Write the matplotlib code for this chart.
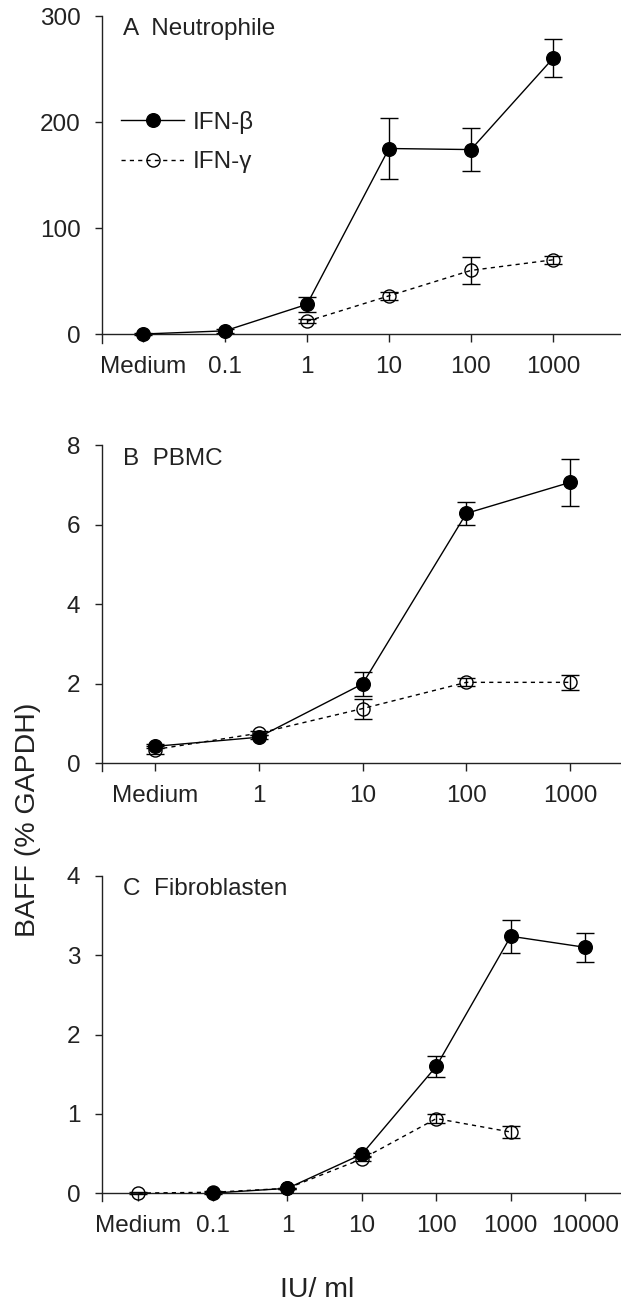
import matplotlib
matplotlib.use("Agg")
import matplotlib.pyplot as plt

plt.rcParams['font.family'] = ['Liberation Sans', 'DejaVu Sans']

INK = '#222222'
W, H = 621, 1310

# panel A: Neutrophile
a_labels = ['Medium', '0.1', '1', '10', '100', '1000']
a_beta_x = [0, 1, 2, 3, 4, 5]
a_beta = [0, 3, 28, 175, 174, 260]
a_beta_err = [1, 2, 7, 29, 20, 18]
a_gamma_x = [2, 3, 4, 5]
a_gamma = [12, 36, 60, 70]
a_gamma_err = [2, 4, 13, 4]

# panel B: PBMC
b_labels = ['Medium', '1', '10', '100', '1000']
b_beta_x = [0, 1, 2, 3, 4]
b_beta = [0.42, 0.65, 1.99, 6.28, 7.06]
b_beta_err = [0.05, 0.05, 0.30, 0.29, 0.59]
b_gamma_x = [0, 1, 2, 3, 4]
b_gamma = [0.34, 0.75, 1.37, 2.03, 2.03]
b_gamma_err = [0.10, 0.05, 0.25, 0.10, 0.18]

# panel C: Fibroblasten
c_labels = ['Medium', '0.1', '1', '10', '100', '1000', '10000']
c_beta_x = [1, 2, 3, 4, 5, 6]
c_beta = [0.0, 0.06, 0.49, 1.60, 3.24, 3.10]
c_beta_err = [0.01, 0.01, 0.02, 0.13, 0.21, 0.18]
c_gamma_x = [0, 1, 2, 3, 4, 5]
c_gamma = [0.0, 0.01, 0.06, 0.43, 0.94, 0.77]
c_gamma_err = [0.01, 0.01, 0.01, 0.02, 0.06, 0.08]

panels = [
    # title, labels, beta, gamma, ylim, yticks, xlim, top px, bottom px, title baseline px
    ('A  Neutrophile', a_labels, (a_beta_x, a_beta, a_beta_err), (a_gamma_x, a_gamma, a_gamma_err),
     (-8, 300), [0, 100, 200, 300], (-0.5, 5.83), 16, 342.5, 35),
    ('B  PBMC', b_labels, (b_beta_x, b_beta, b_beta_err), (b_gamma_x, b_gamma, b_gamma_err),
     (-0.2, 8), [0, 2, 4, 6, 8], (-0.51, 4.49), 445, 771, 465),
    ('C  Fibroblasten', c_labels, (c_beta_x, c_beta, c_beta_err), (c_gamma_x, c_gamma, c_gamma_err),
     (-0.1, 4), [0, 1, 2, 3, 4], (-0.49, 6.48), 876, 1201, 895),
]

fig = plt.figure(figsize=(W / 100, H / 100), dpi=100)
left = 102 / W
fs = 17.5

for i, (title, labels, beta, gamma, ylim, yticks, xlim, top, bot, ty) in enumerate(panels):
    ax = fig.add_axes([left, 1 - bot / H, 1 - left, (bot - top) / H])
    ax.set_facecolor('none')
    # gamma first so filled circles sit on top
    gx, gy, ge = gamma
    ax.errorbar(gx, gy, yerr=ge, fmt='none', ecolor='black', elinewidth=1.0,
                capsize=6.5, capthick=1.0, zorder=2)
    lg, = ax.plot(gx, gy, color='black', lw=1.0, dashes=(3, 3), marker='o', ms=9.4,
                  mfc='none', mec='black', mew=1.0, zorder=3)
    bx, by, be = beta
    ax.errorbar(bx, by, yerr=be, fmt='none', ecolor='black', elinewidth=1.0,
                capsize=6.5, capthick=1.0, zorder=4)
    lb, = ax.plot(bx, by, color='black', lw=1.0, marker='o', ms=9.8,
                  mfc='black', mec='black', zorder=5)

    ax.set_xlim(*xlim)
    ax.set_ylim(*ylim)
    ax.set_xticks(range(len(labels)))
    ax.set_xticklabels(labels)
    ax.set_yticks(yticks)
    ax.spines['top'].set_visible(False)
    ax.spines['right'].set_visible(False)
    ax.spines['bottom'].set_position(('data', 0))
    for s in ('left', 'bottom'):
        ax.spines[s].set_color(INK)
        ax.spines[s].set_linewidth(1.0)
    ax.tick_params(axis='x', direction='out', length=6, width=1.0, color=INK,
                   labelsize=fs, labelcolor=INK, pad=9.5)
    ax.tick_params(axis='y', direction='out', length=5, width=1.0, color=INK,
                   labelsize=fs, labelcolor=INK, pad=10.5)

    fig.text(123 / W, 1 - ty / H, title, fontsize=fs, color=INK, va='baseline', ha='left')

    if i == 0:
        ax.legend([lb, lg], ['IFN-\u03b2', 'IFN-\u03b3'], loc='upper left',
                  bbox_to_anchor=(121 / W, 1 - 111 / H), bbox_transform=fig.transFigure,
                  frameon=False, fontsize=fs, handlelength=2.6, handletextpad=0.35,
                  labelspacing=0.7, borderpad=0, borderaxespad=0, labelcolor=INK)

fig.text(28 / W, 1 - 820 / H, 'BAFF (% GAPDH)', rotation=90, fontsize=20.5, color=INK,
         ha='center', va='center')
fig.text(317 / W, 1 - 1297 / H, 'IU/ ml', fontsize=20.5, color=INK, ha='center', va='baseline')

fig.savefig('out.png', dpi=100)
